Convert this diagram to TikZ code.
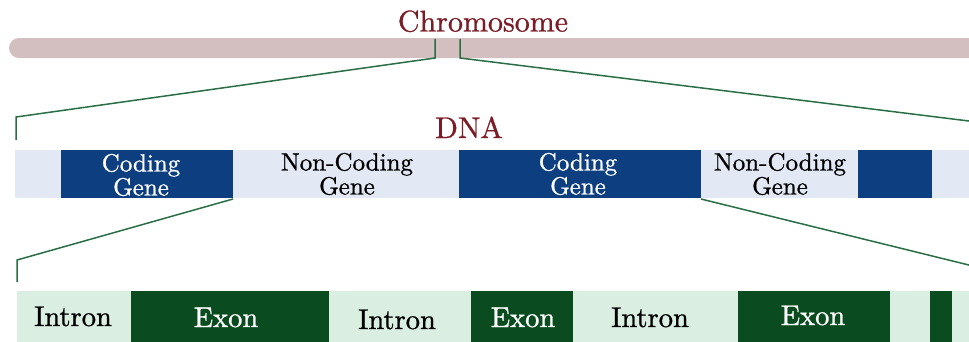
\documentclass[tikz,border=0pt]{standalone}
\usepackage{fontspec}
\newfontfamily\labelserif{lmroman10-regular.otf}[FakeBold=0.9]
\usepackage{xcolor}
\definecolor{chromofill}{HTML}{D3BFC0}
\definecolor{chromotext}{HTML}{7B1D27}
\definecolor{linkgreen}{HTML}{2A6E45}
\definecolor{dnalight}{HTML}{E2E9F5}
\definecolor{dnadark}{HTML}{0D3F80}
\definecolor{genelight}{HTML}{DAEEE2}
\definecolor{genedark}{HTML}{0A4B1F}

\begin{document}
\begin{tikzpicture}[x=1pt,y=-1pt,
  block/.style={inner sep=0pt, outer sep=0pt, anchor=north west, draw=none},
  coding/.style={block, fill=dnadark, minimum height=48pt},
  exonbox/.style={block, fill=genedark, minimum height=54pt},
  link/.style={draw=linkgreen, line width=1.5pt, line join=miter},
  title/.style={text=chromotext, font=\labelserif\fontsize{30}{30}\selectfont, anchor=base, inner sep=0pt},
  dnalabel/.style={font=\labelserif\fontsize{25}{25}\selectfont, anchor=base, inner sep=0pt},
  genelabel/.style={font=\labelserif\fontsize{28.5}{28.5}\selectfont, anchor=base, inner sep=0pt},
]
\useasboundingbox (0,0) rectangle (969,341);
\clip (0,0) rectangle (969,341);

% chromosome bar
\node[block, fill=chromofill, rounded corners=10pt, minimum width=1000pt, minimum height=20pt] (chrom) at (9,38) {};
\node[title] (chrlabel) at (483,31.5) {Chromosome};

% DNA strip
\node[block, fill=dnalight, minimum width=1000pt, minimum height=48pt] (dna) at (15,150) {};
\node[coding, minimum width=172pt] (cg1) at (61,150) {};
\node[coding, minimum width=242pt] (cg2) at (459,150) {};
\node[coding, minimum width=74pt] (cg3) at (858,150) {};
\node[title] (dnalabel) at (469,138) {DNA};

\node[dnalabel, text=white] (cg1a) at (141,171.5) {Coding};
\node[dnalabel, text=white] (cg1b) at (141,195.5) {Gene};
\node[dnalabel] (nc1a) at (347,170.5) {Non-Coding};
\node[dnalabel] (nc1b) at (347,194.5) {Gene};
\node[dnalabel, text=white] (cg2a) at (578,170.5) {Coding};
\node[dnalabel, text=white] (cg2b) at (578,194.5) {Gene};
\node[dnalabel] (nc2a) at (780,170.5) {Non-Coding};
\node[dnalabel] (nc2b) at (780,194.5) {Gene};

% gene strip
\node[block, fill=genelight, minimum width=1000pt, minimum height=54pt] (gene) at (17,291) {};
\node[exonbox, minimum width=198pt] (ex1) at (131,291) {};
\node[exonbox, minimum width=102pt] (ex2) at (471,291) {};
\node[exonbox, minimum width=152pt] (ex3) at (738,291) {};
\node[exonbox, minimum width=22pt] (ex4) at (930,291) {};

\node[genelabel] (in1) at (73,326) {Intron};
\node[genelabel, text=white] (ex1t) at (226,327) {Exon};
\node[genelabel] (in2) at (397,329) {Intron};
\node[genelabel, text=white] (ex2t) at (523,327) {Exon};
\node[genelabel] (in3) at (650,327) {Intron};
\node[genelabel, text=white] (ex3t) at (813,325) {Exon};

% zoom connectors
\coordinate (zl) at (435,39);
\coordinate (zr) at (460,39);
\coordinate (dl) at (16,140);
\coordinate (dr) at (985,145);
\draw[link] (zl) -- ++(0,19) -- (dl |- 0,117) -- (dl);
\draw[link] (zr) -- ++(0,19) -- (dr |- 0,123) -- (dr);

\coordinate (gl) at (17,282);
\coordinate (gr) at (985,285);
\draw[link] ([yshift=-1pt]cg1.south east) -- (gl |- 0,260) -- (gl);
\draw[link] ([yshift=-1pt]cg2.south east) -- (gr |- 0,269) -- (gr);
\end{tikzpicture}
\end{document}
